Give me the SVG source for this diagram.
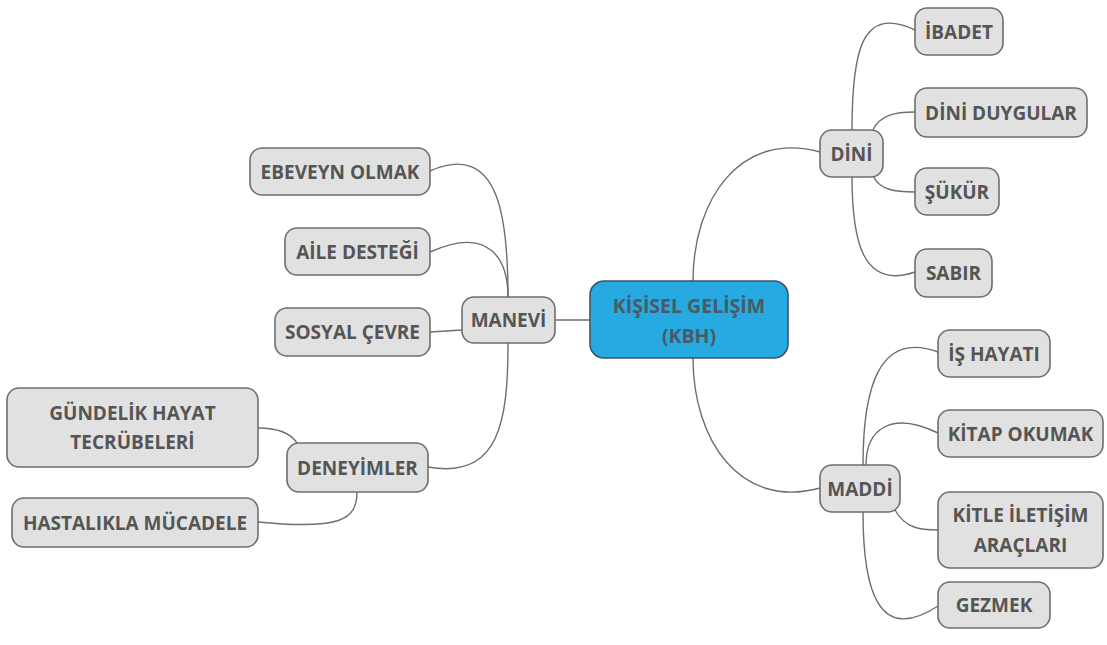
<svg xmlns="http://www.w3.org/2000/svg" width="1107" height="645" viewBox="0 0 1107 645">
<style>
.n rect{fill:#e1e1e1;stroke:#6e6e6e;stroke-width:1.6}
.c rect{fill:#27a9e1;stroke:#3d5566;stroke-width:1.6}
text{font-family:"Open Sans","Noto Sans",sans-serif;font-weight:bold;font-size:19px;fill:#555;text-anchor:middle;dominant-baseline:central}
.c text{fill:#4a5a66;font-size:19.5px}
.e path{fill:none;stroke:#6e6e6e;stroke-width:1.4}
</style>
<rect width="1107" height="645" fill="#fff"/>
<g class="e">
<path d="M693,281 C693,200 740,130 820,152"/>
<path d="M693,358 C693,440 740,510 820,488"/>
<path d="M555,320 L590,320"/>
<path d="M852,130 C852,50 862,5 915,30"/>
<path d="M873,130 C880,115 895,112 915,112"/>
<path d="M873,176 C880,190 895,192 915,192"/>
<path d="M852,176 C852,240 862,290 915,272"/>
<path d="M863,465 C863,390 878,330 938,352"/>
<path d="M866,465 C866,430 890,410 938,433"/>
<path d="M895,510 C905,528 920,530 938,530"/>
<path d="M863,512 C863,590 878,645 938,606"/>
<path d="M508,297 C508,220 500,140 430,171"/>
<path d="M508,297 C508,260 490,225 430,252"/>
<path d="M462,330 L430,332"/>
<path d="M508,343 C508,420 500,480 428,467"/>
<path d="M258,428 C275,428 290,432 297,443"/>
<path d="M357,492 C357,520 340,530 258,522"/>
</g>
<g id="center" class="c"><rect x="590" y="281" width="198" height="77" rx="14"/><text x="689" y="305">KİŞİSEL GELİŞİM</text><text x="689" y="335">(KBH)</text></g>
<g id="dini" class="n"><rect x="820" y="130" width="63" height="47" rx="12"/><text x="851.5" y="153.5">DİNİ</text></g>
<g id="ibadet" class="n"><rect x="915" y="8" width="88" height="47" rx="12"/><text x="959" y="31.5">İBADET</text></g>
<g id="duygular" class="n"><rect x="915" y="88" width="172" height="49" rx="12"/><text x="1001" y="112.5">DİNİ DUYGULAR</text></g>
<g id="sukur" class="n"><rect x="915" y="168" width="84" height="47" rx="12"/><text x="957" y="191.5">ŞÜKÜR</text></g>
<g id="sabir" class="n"><rect x="915" y="249" width="77" height="48" rx="12"/><text x="953.5" y="273">SABIR</text></g>
<g id="maddi" class="n"><rect x="820" y="465" width="80" height="47" rx="12"/><text x="860" y="488.5">MADDİ</text></g>
<g id="is" class="n"><rect x="938" y="330" width="112" height="47" rx="12"/><text x="994" y="353.5">İŞ HAYATI</text></g>
<g id="kitap" class="n"><rect x="938" y="410" width="165" height="47" rx="12"/><text x="1020.5" y="433.5">KİTAP OKUMAK</text></g>
<g id="kitle" class="n"><rect x="938" y="492" width="165" height="76" rx="12"/><text x="1020.5" y="515">KİTLE İLETİŞİM</text><text x="1020.5" y="545">ARAÇLARI</text></g>
<g id="gezmek" class="n"><rect x="938" y="582" width="112" height="46" rx="12"/><text x="994" y="605">GEZMEK</text></g>
<g id="manevi" class="n"><rect x="462" y="297" width="93" height="46" rx="12"/><text x="508.5" y="320">MANEVİ</text></g>
<g id="ebeveyn" class="n"><rect x="250" y="148" width="180" height="47" rx="12"/><text x="340" y="171.5">EBEVEYN OLMAK</text></g>
<g id="aile" class="n"><rect x="285" y="228" width="145" height="47" rx="12"/><text x="357.5" y="251.5">AİLE DESTEĞİ</text></g>
<g id="sosyal" class="n"><rect x="275" y="308" width="155" height="48" rx="12"/><text x="352.5" y="332">SOSYAL ÇEVRE</text></g>
<g id="deneyimler" class="n"><rect x="287" y="443" width="141" height="49" rx="12"/><text x="357.5" y="467.5">DENEYİMLER</text></g>
<g id="gundelik" class="n"><rect x="7" y="388" width="251" height="79" rx="12"/><text x="132.5" y="413">GÜNDELİK HAYAT</text><text x="132.5" y="442">TECRÜBELERİ</text></g>
<g id="hastalik" class="n"><rect x="12" y="498" width="246" height="49" rx="12"/><text x="135" y="522.5">HASTALIKLA MÜCADELE</text></g>
</svg>
